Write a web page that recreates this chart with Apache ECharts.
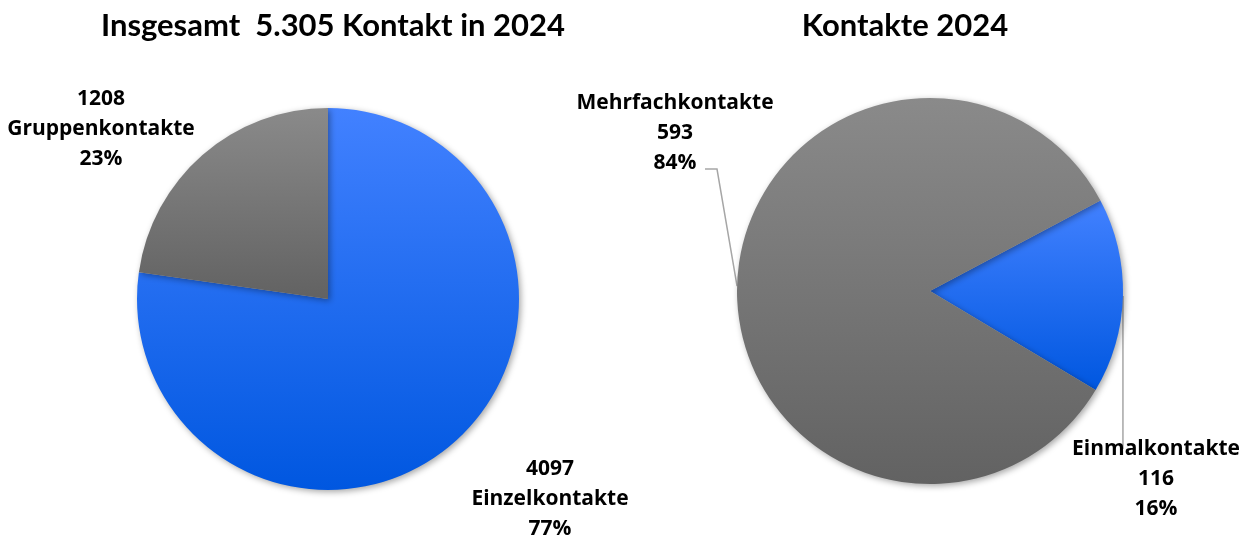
<!DOCTYPE html>
<html>
<head>
<meta charset="utf-8">
<script src="https://cdn.jsdelivr.net/npm/echarts@6/dist/echarts.min.js"></script>
<style>
  html, body { margin: 0; padding: 0; background: #fff; }
  #main { width: 1252px; height: 537px; }
</style>
</head>
<body>
<div id="main"></div>
<script>
// Daten
var totalNames = ['Einzelkontakte', 'Gruppenkontakte'];
var totalValues = [4097, 1208];
var contactNames = ['Einmalkontakte', 'Mehrfachkontakte'];
var contactValues = [116, 593];
var titles = ['Insgesamt  5.305 Kontakt in 2024', 'Kontakte 2024'];

var chart = echarts.init(document.getElementById('main'));

function grad(top, bottom) {
  return new echarts.graphic.LinearGradient(0, 0, 0, 1, [
    { offset: 0, color: top },
    { offset: 1, color: bottom }
  ]);
}
var blue = grad('#4281ff', '#0057e0');
var grey = grad('#8a8a8a', '#626262');

function makeData(names, values, colors) {
  var out = [];
  for (var i = 0; i < names.length; i++) {
    out.push({ name: names[i], value: values[i], itemStyle: { color: colors[i] } });
  }
  return out;
}

var labelText = {
  fontFamily: 'Open Sans',
  fontWeight: 'bold',
  fontSize: 21,
  lineHeight: 30,
  color: '#000',
  align: 'center',
  width: 240
};

var titleStyle = { fontFamily: 'Lato', fontWeight: 'bold', fontSize: 31, color: '#000' };

// Position der Beschriftungen
var leftLabelPos = [[550, 499], [101, 129]];
var rightLabelPos = [[1156, 479], [675, 133]];

var option = {
  animation: false,
  title: [
    { text: titles[0], left: 328, top: 5, textAlign: 'center', textStyle: titleStyle },
    { text: titles[1], left: 900, top: 5, textAlign: 'center', textStyle: titleStyle }
  ],
  series: [
    {
      type: 'pie',
      center: [328, 299],
      radius: 191,
      startAngle: 90,
      clockwise: true,
      percentPrecision: 0,
      data: makeData(totalNames, totalValues, [blue, grey]),
      itemStyle: {
        shadowBlur: 6,
        shadowOffsetX: 2,
        shadowOffsetY: 2,
        shadowColor: 'rgba(0,0,0,0.35)'
      },
      label: Object.assign({
        show: true,
        position: 'outside',
        formatter: '{c}\n{b}\n{d}%'
      }, labelText),
      labelLine: { show: false },
      labelLayout: function (params) {
        var p = leftLabelPos[params.dataIndex];
        return { x: p[0], y: p[1], align: 'center', verticalAlign: 'middle' };
      },
      emphasis: { disabled: true }
    },
    {
      type: 'pie',
      center: [930, 291],
      radius: 193,
      startAngle: 28,
      clockwise: true,
      percentPrecision: 0,
      data: makeData(contactNames, contactValues, [blue, grey]),
      itemStyle: {
        shadowBlur: 6,
        shadowOffsetX: 2,
        shadowOffsetY: 2,
        shadowColor: 'rgba(0,0,0,0.35)'
      },
      label: Object.assign({
        show: true,
        position: 'outside',
        formatter: '{b}\n{c}\n{d}%'
      }, labelText),
      labelLine: {
        show: true,
        length: 10,
        length2: 10,
        lineStyle: { color: '#a6a6a6', width: 1.5 }
      },
      labelLayout: function (params) {
        var p = rightLabelPos[params.dataIndex];
        var start = params.labelLinePoints ? params.labelLinePoints[0] : [p[0], p[1]];
        var pts;
        if (params.dataIndex === 0) {
          pts = [start, [start[0], p[1] - 30], [start[0], p[1] - 47]];
        } else {
          pts = [start, [717, p[1] + 36], [705, p[1] + 36]];
        }
        return {
          x: p[0], y: p[1], align: 'center', verticalAlign: 'middle',
          labelLinePoints: pts
        };
      },
      emphasis: { disabled: true }
    }
  ]
};

chart.setOption(option);
</script>
</body>
</html>
